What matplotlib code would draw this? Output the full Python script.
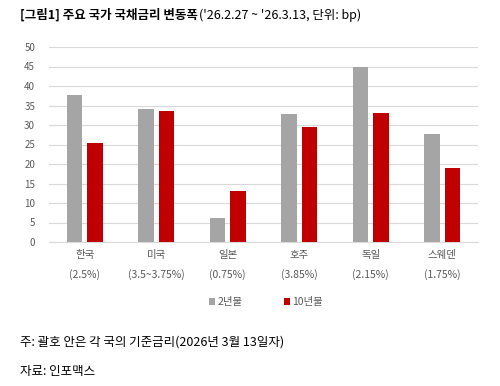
import matplotlib
matplotlib.use("Agg")
import matplotlib.pyplot as plt
import numpy as np

plt.rcParams['font.family'] = ['Noto Sans CJK KR', 'DejaVu Sans']

countries = ["한국", "미국", "일본", "호주", "독일", "스웨덴"]
base_rates = ["(2.5%)", "(3.5~3.75%)", "(0.75%)", "(3.85%)", "(2.15%)", "(1.75%)"]
y2 = [37.7, 34.0, 6.2, 32.8, 45.0, 27.6]
y10 = [25.5, 33.5, 13.2, 29.6, 33.2, 18.9]
series_names = ["2년물", "10년물"]
yticks = [0, 5, 10, 15, 20, 25, 30, 35, 40, 45, 50]

W, H = 500, 386
fig = plt.figure(figsize=(W/100, H/100), dpi=100)
ax = fig.add_axes([49/W, 1-242/H, (478-49)/W, (242-47)/H])

x = np.arange(len(countries))
bw = 0.22
off = 0.143
b1 = ax.bar(x - off, y2, bw, color="#a5a5a5", zorder=3, label=series_names[0])
b2 = ax.bar(x + off, y10, bw, color="#c00000", zorder=3, label=series_names[1])

ax.set_xlim(-0.5, len(countries) - 0.5)
ax.set_ylim(0, 50)
ax.set_yticks(yticks)
ax.tick_params(axis='y', length=0, labelsize=7, labelcolor="#595959", pad=10)
ax.tick_params(axis='x', length=0, labelsize=7.5, labelcolor="#595959", pad=6)
ax.set_xticks(x)
ax.set_xticklabels([f"{c}\n{r}" for c, r in zip(countries, base_rates)], linespacing=2.0)
ax.grid(axis='y', color="#d9d9d9", linewidth=0.8, zorder=0)
for s in ["top", "right", "left"]:
    ax.spines[s].set_visible(False)
ax.spines["bottom"].set_color("#d9d9d9")

leg = fig.legend(handles=[b1, b2], loc="center", bbox_to_anchor=(266/W, 1-302/H),
                 ncol=2, frameon=False, fontsize=7.5, handlelength=0.6, handleheight=0.6,
                 handletextpad=0.2, columnspacing=4.0)
for t in leg.get_texts():
    t.set_color("#595959")

t1 = fig.text(20/W, 1-15/H, "[그림1] 주요 국가 국채금리 변동폭", fontsize=9,
              fontweight="bold", va="center", ha="left", color="#000000")
fig.canvas.draw()
bb = t1.get_window_extent()
fig.text(bb.x1/W + 0.002, 1-15/H, "('26.2.27 ~ '26.3.13, 단위: bp)", fontsize=9,
         va="center", ha="left", color="#000000")

fig.text(20/W, 1-342/H, "주: 괄호 안은 각 국의 기준금리(2026년 3월 13일자)", fontsize=9,
         va="center", ha="left", color="#000000")
fig.text(20/W, 1-372/H, "자료: 인포맥스", fontsize=9, va="center", ha="left", color="#000000")

fig.savefig("out.png", dpi=100, facecolor="white")
